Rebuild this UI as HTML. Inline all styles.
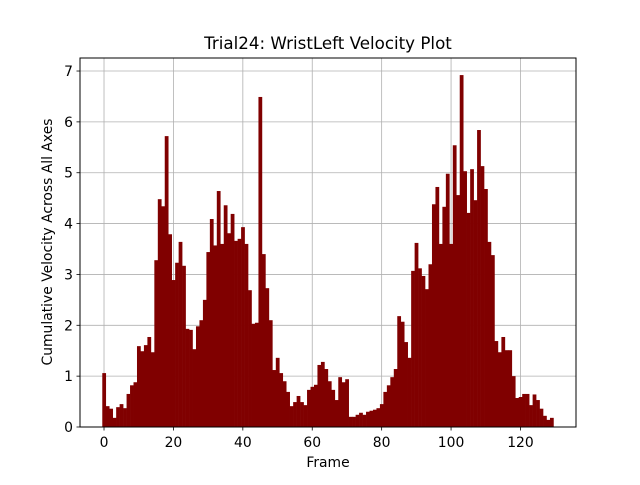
<!DOCTYPE html>
<html><head><meta charset="utf-8"><style>
body{margin:0;background:#fff;}
svg text{font-family:"DejaVu Sans","Liberation Sans",sans-serif;fill:#000;}
</style></head><body>
<svg id="chart" width="640" height="480" viewBox="0 0 640 480">
<rect width="640" height="480" fill="#fff"/>
<g id="grid"></g>
<g id="bars"></g>
<rect x="80" y="58" width="496" height="369" fill="none" stroke="#000" stroke-width="1"/>
<g id="axes"></g>
<text x="328" y="49" font-size="16.7" text-anchor="middle">Trial24: WristLeft Velocity Plot</text>
<text x="328" y="467" font-size="13.9" text-anchor="middle">Frame</text>
<text x="52" y="242" font-size="13.9" text-anchor="middle" transform="rotate(-90 52 242)">Cumulative Velocity Across All Axes</text>
</svg>
<script>
const frames = Array.from({length:130},(_,i)=>i);
const velocity = [1.06,0.41,0.36,0.18,0.39,0.45,0.37,0.65,0.82,0.88,
1.59,1.49,1.61,1.77,1.47,3.28,4.48,4.34,5.72,3.79,
2.89,3.23,3.64,3.17,1.93,1.91,1.53,1.98,2.10,2.50,
3.44,4.09,3.57,4.64,3.60,4.36,3.81,4.19,3.66,3.70,
3.93,3.60,2.69,2.03,2.05,6.49,3.40,2.73,2.10,1.12,
1.36,1.06,0.90,0.69,0.41,0.49,0.61,0.49,0.43,0.73,
0.79,0.83,1.22,1.28,1.14,0.90,0.73,0.53,0.98,0.88,
0.94,0.20,0.20,0.24,0.28,0.24,0.30,0.32,0.34,0.37,
0.45,0.69,0.82,0.98,1.14,2.18,2.07,1.67,1.36,3.07,
3.62,3.12,2.97,2.71,3.20,4.38,4.72,3.60,4.33,4.98,
3.60,5.54,4.56,6.92,5.03,4.21,5.07,4.46,5.84,5.13,
4.68,3.64,3.38,1.69,1.47,1.77,1.51,1.51,1.00,0.57,
0.59,0.65,0.65,0.43,0.64,0.53,0.36,0.22,0.14,0.18];
const xTicks = [0,20,40,60,80,100,120];
const yTicks = [0,1,2,3,4,5,6,7];
const NS="http://www.w3.org/2000/svg";
const X0=80,X1=576,Y0=427,Y1=58;
const xmin=-6.92,xmax=136.0,ymin=0,ymax=7.256;
const xs=v=>X0+(v-xmin)/(xmax-xmin)*(X1-X0);
const ys=v=>Y0-(v-ymin)/(ymax-ymin)*(Y0-Y1);
function mk(tag,attrs,parent){const e=document.createElementNS(NS,tag);for(const k in attrs)e.setAttribute(k,attrs[k]);parent.appendChild(e);return e;}
const grid=document.getElementById('grid'),bars=document.getElementById('bars'),axes=document.getElementById('axes');
xTicks.forEach(t=>{
  const x=xs(t);
  const g=mk('line',{x1:x,x2:x,y1:Y1,y2:Y0,stroke:'#b0b0b0','stroke-width':0.8},grid);
  
  
  const tk=mk('line',{x1:x,x2:x,y1:Y0,y2:Y0+3.5,stroke:'#000','stroke-width':0.8},axes);
  
  
  const lb=mk('text',{x:x,y:Y0+20,'font-size':13.9,'text-anchor':'middle'},axes);
  lb.textContent=t;
  
  
});
yTicks.forEach(t=>{
  const y=ys(t);
  const g=mk('line',{x1:X0,x2:X1,y1:y,y2:y,stroke:'#b0b0b0','stroke-width':0.8},grid);
  
  
  const tk=mk('line',{x1:X0-3.5,x2:X0,y1:y,y2:y,stroke:'#000','stroke-width':0.8},axes);
  
  
  const lb=mk('text',{x:X0-7,y:y+5,'font-size':13.9,'text-anchor':'end'},axes);
  lb.textContent=t;
  
  
});
frames.forEach((f,i)=>{
  const v=velocity[i];
  const xl=xs(f-0.5),xr=xs(f+0.5);
  const r=mk('rect',{x:xl,y:ys(v),width:xr-xl+0.3,height:ys(0)-ys(v),fill:'#800000'},bars);
  
  
});
</script>
</body></html>
